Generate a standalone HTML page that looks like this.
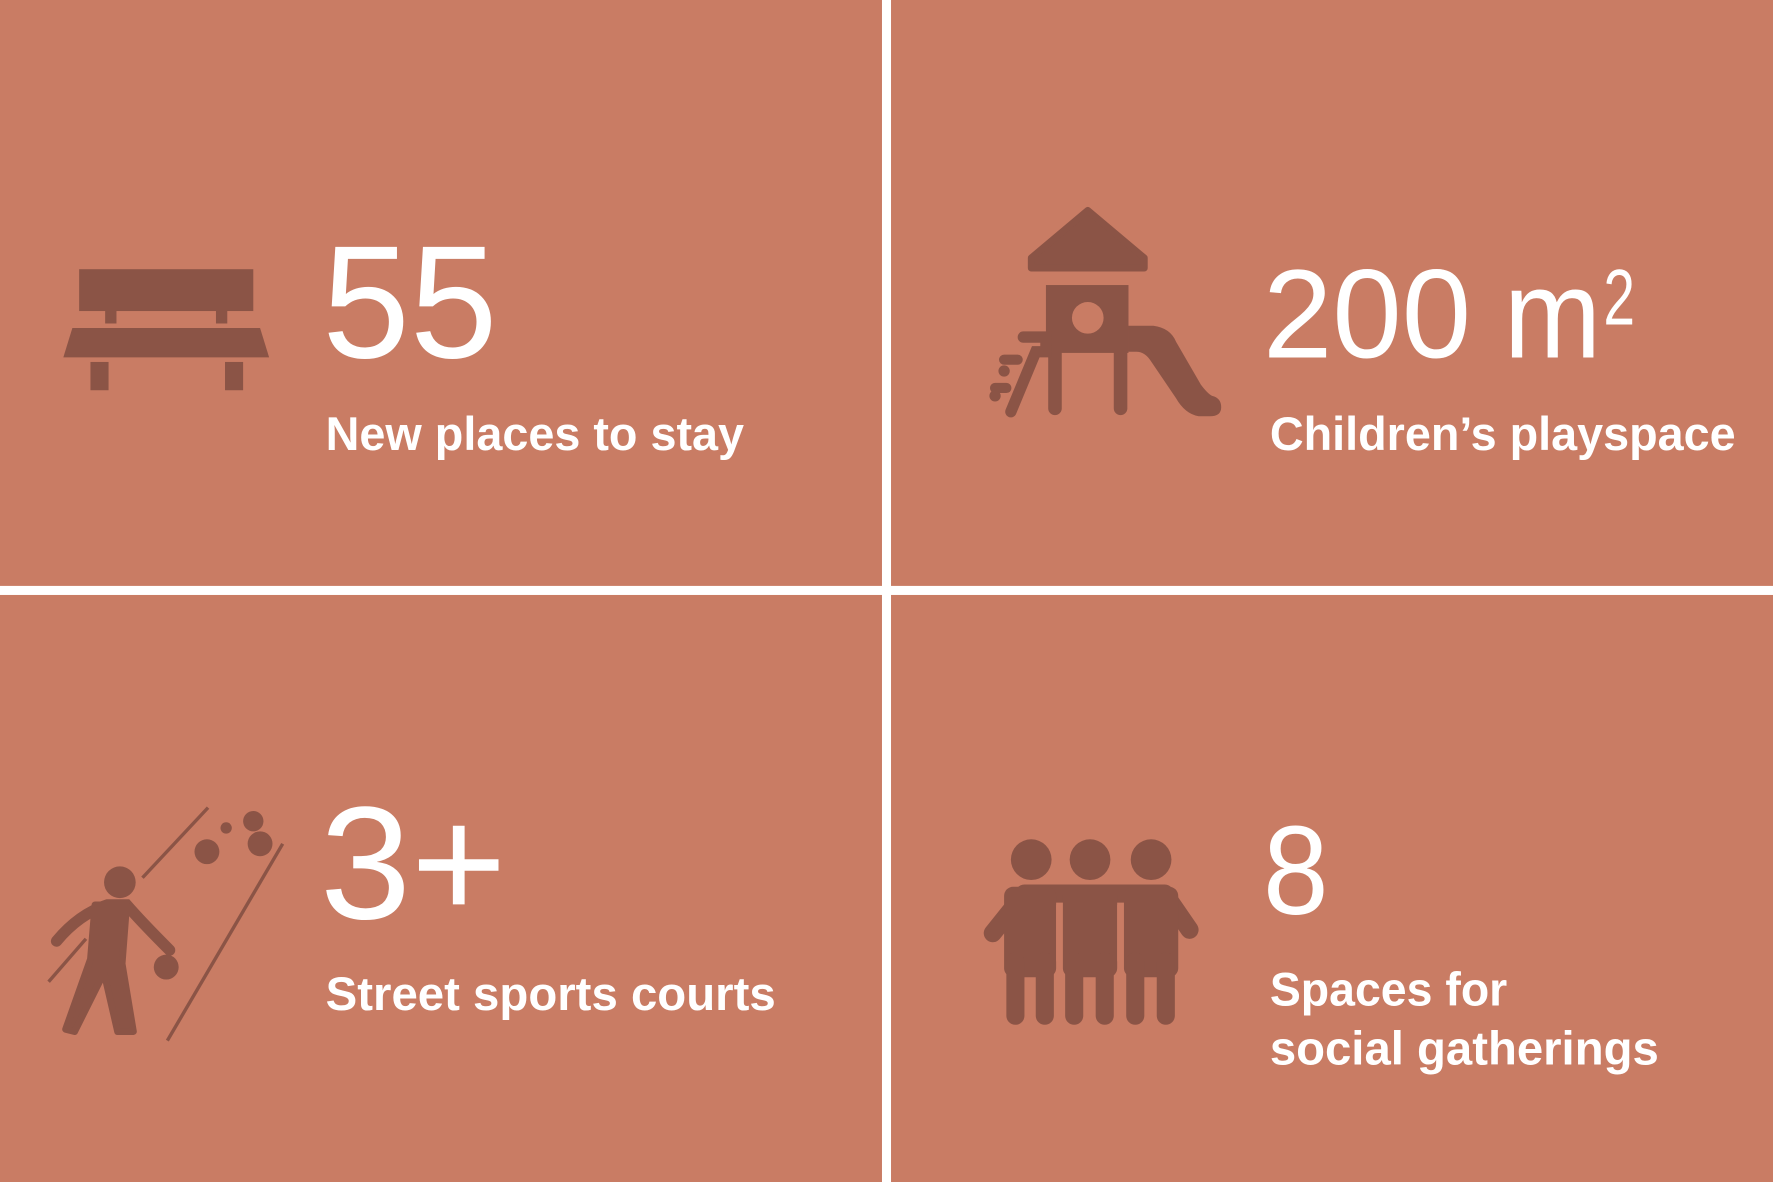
<!DOCTYPE html>
<html><head><meta charset="utf-8"><style>
html,body{margin:0;padding:0;background:#fff;}
svg{display:block;}
text{font-family:"Liberation Sans",sans-serif;fill:#fff;}
.num{font-size:142px;font-weight:normal;}
.num2{font-size:112px;font-weight:normal;}
.lbl{font-size:42px;font-weight:bold;}
</style></head><body>
<svg width="1773" height="1182" viewBox="0 0 1568 1045" preserveAspectRatio="none">
<rect x="0" y="0" width="1568" height="1045" fill="#fff"/>
<rect x="0" y="0" width="780" height="518" fill="#C97C64"/>
<rect x="788" y="0" width="780" height="518" fill="#C97C64"/>
<rect x="0" y="526" width="780" height="519" fill="#C97C64"/>
<rect x="788" y="526" width="780" height="519" fill="#C97C64"/>

<g fill="#8B5446">
<rect x="70" y="238" width="154" height="37"/>
<rect x="93" y="274" width="10" height="12"/><rect x="191" y="274" width="10" height="12"/>
<polygon points="64,290 230,290 238,316 56,316"/>
<rect x="80" y="320" width="16" height="25"/><rect x="199" y="320" width="16" height="25"/>
</g>
<text class="num" x="285" y="316" textLength="155" lengthAdjust="spacingAndGlyphs">55</text>
<text class="lbl" x="288" y="398" textLength="370" lengthAdjust="spacingAndGlyphs">New places to stay</text>

<g fill="#8B5446" stroke="#8B5446">
<polygon points="962,186 1012,228 1012,237 912,237 912,228" stroke-linejoin="round" stroke-width="6"/>
<rect x="925" y="252" width="73" height="60" stroke="none"/>
<circle cx="962" cy="281" r="14" fill="#C97C64" stroke="none"/>
<rect x="927" y="305" width="12" height="62" rx="6" stroke="none"/>
<rect x="985" y="305" width="12" height="62" rx="6" stroke="none"/>
<path d="M998,288 L1020,288 Q1035,290 1040,302 L1062,340 Q1068,348 1072,350 Q1080,352 1080,360 Q1080,368 1070,368 L1060,368 Q1048,366 1040,352 L1017,318 Q1012,311 1005,311 L998,311 Z" stroke="none"/>
<path d="M905,298 L925,298 L925,311 L916,311 L894,364" fill="none" stroke-width="10" stroke-linecap="round"/>
<line x1="888" y1="318" x2="900" y2="318" stroke-width="9" stroke-linecap="round"/>
<line x1="880" y1="343" x2="890" y2="343" stroke-width="9" stroke-linecap="round"/>
<circle cx="888" cy="328" r="5" stroke="none"/><circle cx="880" cy="350" r="5" stroke="none"/>
</g>
<text class="num2" x="1117" y="316" textLength="184" lengthAdjust="spacingAndGlyphs">200</text>
<text class="num2" x="1330" y="316" textLength="86" lengthAdjust="spacingAndGlyphs">m</text>
<text x="1418" y="287" style="font-size:70px" textLength="28" lengthAdjust="spacingAndGlyphs">2</text>
<text class="lbl" x="1123" y="398" textLength="412" lengthAdjust="spacingAndGlyphs">Children’s playspace</text>

<g fill="#8B5446" stroke="#8B5446">
<line x1="184" y1="714" x2="126" y2="776" stroke-width="3"/>
<line x1="250" y1="746" x2="148" y2="920" stroke-width="3"/>
<line x1="76" y1="830" x2="43" y2="868" stroke-width="3"/>
<circle cx="106" cy="780" r="14" stroke="none"/>
<circle cx="183" cy="753" r="11" stroke="none"/><circle cx="230" cy="746" r="11" stroke="none"/>
<circle cx="224" cy="726" r="9" stroke="none"/><circle cx="200" cy="732" r="5" stroke="none"/>
<circle cx="147" cy="855" r="11" stroke="none"/>
<path d="M50,832 Q70,808 95,800 L112,800 Q125,815 150,840" fill="none" stroke-width="10" stroke-linecap="round"/>
<path d="M84,800 L112,800 L108,852 L118,912 L104,912 L92,860 L66,912 L58,910 L80,848 Z" stroke-width="6" stroke-linejoin="round"/>
</g>
<text class="num" x="283" y="812" textLength="165" lengthAdjust="spacingAndGlyphs">3+</text>
<text class="lbl" x="288" y="893" textLength="398" lengthAdjust="spacingAndGlyphs">Street sports courts</text>

<g fill="#8B5446" stroke="#8B5446">
<circle cx="912" cy="760" r="18" stroke="none"/><circle cx="964" cy="760" r="18" stroke="none"/><circle cx="1018" cy="760" r="18" stroke="none"/>
<path d="M878,825 L906,790 L1030,790 L1052,822" fill="none" stroke-width="16" stroke-linecap="round" stroke-linejoin="round"/>
<rect x="888" y="784" width="46" height="80" rx="8" stroke="none"/>
<rect x="940" y="784" width="48" height="80" rx="8" stroke="none"/>
<rect x="994" y="784" width="48" height="80" rx="8" stroke="none"/>
<g stroke-width="16" stroke-linecap="round">
<line x1="898" y1="850" x2="898" y2="898"/><line x1="924" y1="850" x2="924" y2="898"/>
<line x1="950" y1="850" x2="950" y2="898"/><line x1="977" y1="850" x2="977" y2="898"/>
<line x1="1004" y1="850" x2="1004" y2="898"/><line x1="1031" y1="850" x2="1031" y2="898"/>
</g>
<line x1="936" y1="800" x2="936" y2="850" stroke="#C97C64" stroke-width="4"/>
<line x1="990" y1="800" x2="990" y2="850" stroke="#C97C64" stroke-width="4"/>
</g>
<text class="num2" x="1117" y="808" textLength="58" lengthAdjust="spacingAndGlyphs">8</text>
<text class="lbl" x="1123" y="889" textLength="210" lengthAdjust="spacingAndGlyphs">Spaces for</text>
<text class="lbl" x="1123" y="941" textLength="344" lengthAdjust="spacingAndGlyphs">social gatherings</text>
</svg>
</body></html>
